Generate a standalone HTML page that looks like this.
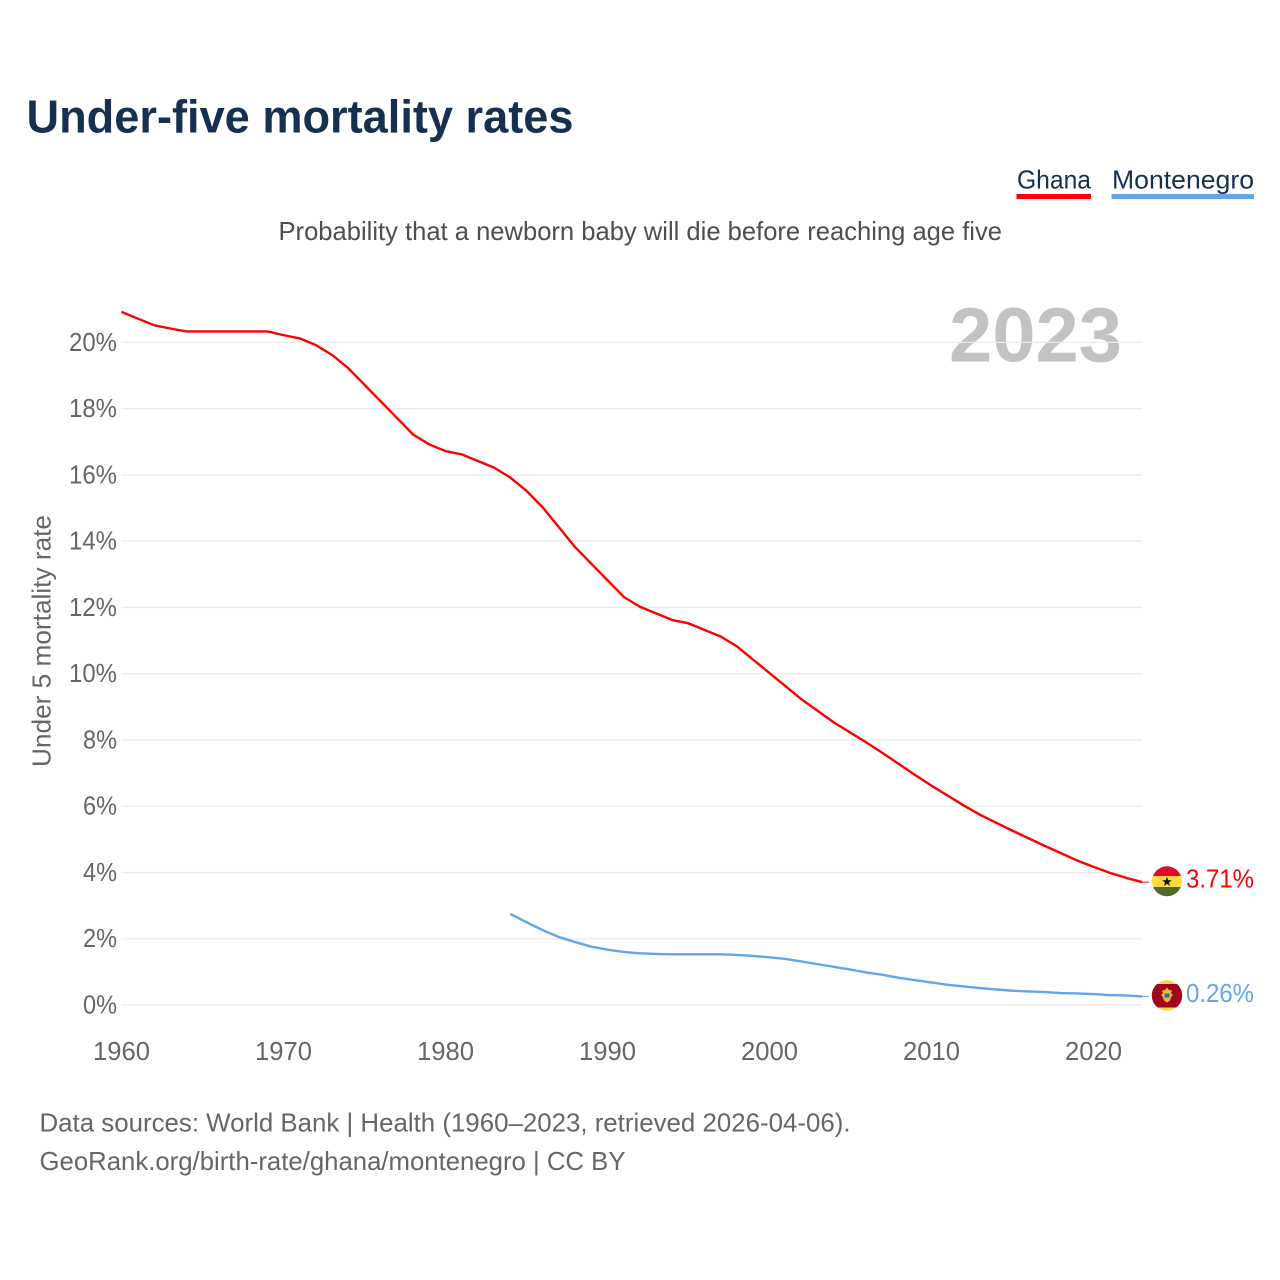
<!DOCTYPE html>
<html lang="en">
<head>
<meta charset="utf-8">
<title>Under-five mortality rates</title>
<style>
html,body{margin:0;padding:0;background:#fff;width:1280px;height:1280px;overflow:hidden}
svg{display:block}
text{font-family:"Liberation Sans",sans-serif}
</style>
</head>
<body>
<svg id="chart" width="1280" height="1280" viewBox="0 0 1280 1280" xmlns="http://www.w3.org/2000/svg">
  <defs>
    <clipPath id="clip-ghana"><circle cx="1167" cy="881.3" r="15"/></clipPath>
    <clipPath id="clip-montenegro"><circle cx="1167" cy="995.5" r="15.2"/></clipPath>
  </defs>
  <rect x="0" y="0" width="1280" height="1280" fill="#fff"/>
  <text x="26.5" y="132.5" font-size="46" font-weight="700" fill="#18304f" textLength="547" lengthAdjust="spacingAndGlyphs">Under-five mortality rates</text>
  <text x="278.5" y="240" font-size="26" fill="#4e4e4e" textLength="723.5" lengthAdjust="spacingAndGlyphs">Probability that a newborn baby will die before reaching age five</text>

  <g>
    <text x="1017" y="188.5" font-size="26" fill="#18304f" textLength="74" lengthAdjust="spacingAndGlyphs">Ghana</text>
    <rect x="1016.5" y="194" width="74.5" height="5" fill="#ff0000"/>
    <text x="1112" y="188.5" font-size="26" fill="#18304f" textLength="142" lengthAdjust="spacingAndGlyphs">Montenegro</text>
    <rect x="1111.5" y="194" width="142.5" height="5" fill="#62a5ec"/>
  </g>

  <text x="949" y="361.5" font-size="77" font-weight="700" fill="#c2c2c2" textLength="173" lengthAdjust="spacingAndGlyphs">2023</text>

  <g id="grid"></g>
  <g id="yticks"></g>
  <g id="xticks"></g>
  <text transform="translate(50.5,767) rotate(-90)" x="0" y="0" font-size="26" fill="#666" textLength="252" lengthAdjust="spacingAndGlyphs">Under 5 mortality rate</text>
  <g id="series"></g>

  <g clip-path="url(#clip-ghana)">
    <rect x="1152" y="866" width="30" height="10.5" fill="#dc0b2c"/>
    <rect x="1152" y="876" width="30" height="11" fill="#ffd840"/>
    <rect x="1152" y="887" width="30" height="10" fill="#4d6b2a"/>
    <text x="1167" y="886" font-size="13" text-anchor="middle" fill="#111" style="font-family:'DejaVu Sans',sans-serif">★</text>
  </g>
  <g clip-path="url(#clip-montenegro)">
    <rect x="1151" y="980" width="32" height="31" fill="#ffd34d"/>
    <rect x="1151" y="984" width="32" height="23.5" fill="#a0061e"/>
    <path d="M1167 987.5l2 2.5 3 .5-1 3 2 1-2 3-1 3-3 2-3-2-1-3-2-3 2-1-1-3 3-.5z" fill="#e9b93a"/>
    <rect x="1164.5" y="993.5" width="5" height="4" fill="#2e6da8"/>
  </g>

  <text x="1186" y="887.5" font-size="26" fill="#ff0000" textLength="68" lengthAdjust="spacingAndGlyphs">3.71%</text>
  <text x="1186" y="1002" font-size="26" fill="#62a5ec" textLength="68" lengthAdjust="spacingAndGlyphs">0.26%</text>

  <text x="39.5" y="1131.5" font-size="26" fill="#666" textLength="811" lengthAdjust="spacingAndGlyphs">Data sources: World Bank | Health (1960–2023, retrieved 2026-04-06).</text>
  <text x="39.5" y="1170" font-size="26" fill="#666" textLength="586" lengthAdjust="spacingAndGlyphs">GeoRank.org/birth-rate/ghana/montenegro | CC BY</text>
</svg>
<script>
const ghanaYears = [1960,1961,1962,1963,1964,1965,1966,1967,1968,1969,1970,1971,1972,1973,1974,1975,1976,1977,1978,1979,1980,1981,1982,1983,1984,1985,1986,1987,1988,1989,1990,1991,1992,1993,1994,1995,1996,1997,1998,1999,2000,2001,2002,2003,2004,2005,2006,2007,2008,2009,2010,2011,2012,2013,2014,2015,2016,2017,2018,2019,2020,2021,2022,2023];
const ghanaValues = [20.92,20.72,20.52,20.42,20.33,20.33,20.33,20.33,20.33,20.33,20.22,20.12,19.92,19.62,19.22,18.72,18.22,17.72,17.22,16.92,16.72,16.62,16.42,16.22,15.92,15.52,15.02,14.42,13.82,13.32,12.82,12.32,12.02,11.82,11.62,11.52,11.32,11.12,10.82,10.42,10.02,9.62,9.22,8.87,8.52,8.22,7.92,7.6,7.27,6.94,6.62,6.32,6.02,5.74,5.5,5.26,5.03,4.8,4.58,4.36,4.17,3.99,3.84,3.71];
const montenegroYears = [1984,1985,1986,1987,1988,1989,1990,1991,1992,1993,1994,1995,1996,1997,1998,1999,2000,2001,2002,2003,2004,2005,2006,2007,2008,2009,2010,2011,2012,2013,2014,2015,2016,2017,2018,2019,2020,2021,2022,2023];
const montenegroValues = [2.75,2.5,2.26,2.05,1.9,1.76,1.67,1.6,1.56,1.54,1.53,1.53,1.53,1.53,1.51,1.48,1.44,1.39,1.31,1.23,1.15,1.07,0.98,0.91,0.82,0.75,0.68,0.61,0.56,0.51,0.47,0.43,0.41,0.39,0.36,0.35,0.33,0.3,0.29,0.26];
const yTickValues = [0,2,4,6,8,10,12,14,16,18,20];
const xTickValues = [1960,1970,1980,1990,2000,2010,2020];

const NS = 'http://www.w3.org/2000/svg';
const xScale = function (year) { return 121.5 + (year - 1960) * 16.2; };
const yScale = function (value) { return 1005 - value * 33.13; };

function make(tag, attrs, text) {
  const el = document.createElementNS(NS, tag);
  Object.keys(attrs).forEach(function (k) { el.setAttribute(k, attrs[k]); });
  if (text !== undefined) el.textContent = text;
  return el;
}

const grid = document.getElementById('grid');
const yticks = document.getElementById('yticks');
yTickValues.forEach(function (v) {
  const line = make('line', {x1: 121.5, x2: 1142, y1: yScale(v), y2: yScale(v), stroke: '#ebebeb', 'stroke-width': 1.3});
  
  
  grid.appendChild(line);
  const label = make('text', {x: 117, y: yScale(v) + 8.5, 'font-size': 26, fill: '#666', 'text-anchor': 'end', textLength: (v >= 10 ? 48 : 34), lengthAdjust: 'spacingAndGlyphs'}, v + '%');
  
  
  yticks.appendChild(label);
});

const xticks = document.getElementById('xticks');
xTickValues.forEach(function (year) {
  const label = make('text', {x: xScale(year) - 28.5, y: 1060, 'font-size': 26, fill: '#666', textLength: 57, lengthAdjust: 'spacingAndGlyphs'}, String(year));
  
  
  xticks.appendChild(label);
});

function linePath(years, values) {
  return years.map(function (y, i) {
    return (i ? 'L' : 'M') + xScale(y).toFixed(2) + ' ' + yScale(values[i]).toFixed(2);
  }).join('');
}

const series = document.getElementById('series');

const ghanaLine = make('path', {d: linePath(ghanaYears, ghanaValues), fill: 'none', stroke: '#ff0000', 'stroke-width': 2.4, 'stroke-linejoin': 'round'});


series.appendChild(ghanaLine);

const montenegroLine = make('path', {d: linePath(montenegroYears, montenegroValues), fill: 'none', stroke: '#62a5ec', 'stroke-width': 2.4, 'stroke-linejoin': 'round'});


series.appendChild(montenegroLine);

const ghanaLast = ghanaValues[ghanaValues.length - 1];
const ghanaConnector = make('line', {x1: xScale(2023), x2: 1149, y1: yScale(ghanaLast), y2: yScale(ghanaLast), stroke: '#ff0000', 'stroke-width': 1});


series.appendChild(ghanaConnector);

const montenegroLast = montenegroValues[montenegroValues.length - 1];
const montenegroConnector = make('line', {x1: xScale(2023), x2: 1149, y1: yScale(montenegroLast), y2: yScale(montenegroLast), stroke: '#62a5ec', 'stroke-width': 1});


series.appendChild(montenegroConnector);
</script>
</body>
</html>
